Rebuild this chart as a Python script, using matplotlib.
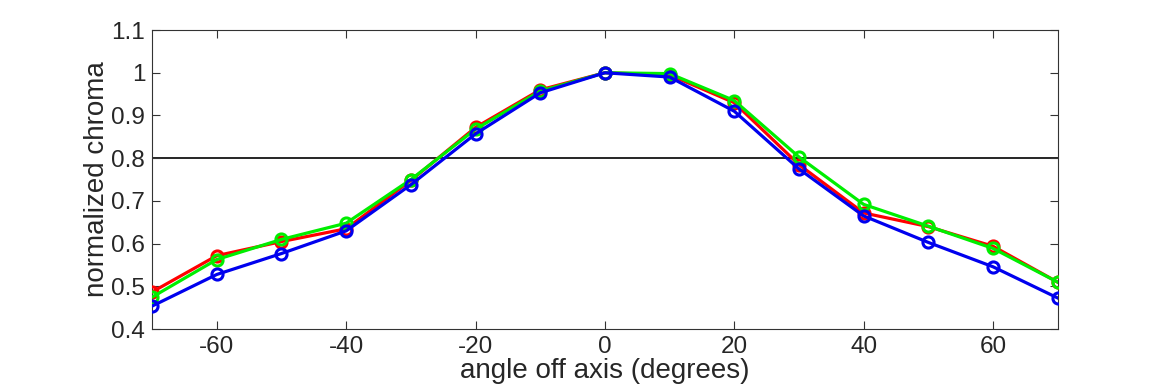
import numpy as np
import matplotlib
matplotlib.use('Agg')
import matplotlib.pyplot as plt

plt.rcParams['font.family'] = ['Liberation Sans', 'DejaVu Sans']
plt.rcParams['axes.unicode_minus'] = False

angles = [-70, -60, -50, -40, -30, -20, -10, 0, 10, 20, 30, 40, 50, 60, 70]
red = [0.487, 0.572, 0.605, 0.635, 0.748, 0.872, 0.960, 1.0, 0.995, 0.930, 0.785, 0.672, 0.640, 0.594, 0.510]
green = [0.475, 0.563, 0.610, 0.648, 0.750, 0.868, 0.957, 1.0, 0.998, 0.935, 0.803, 0.692, 0.641, 0.589, 0.510]
blue = [0.454, 0.528, 0.577, 0.630, 0.738, 0.857, 0.953, 1.0, 0.990, 0.910, 0.775, 0.665, 0.603, 0.546, 0.473]
threshold = 0.8

fig = plt.figure(figsize=(11.7, 3.9), dpi=100)
ax = fig.add_axes([0.130, 0.156, 0.774, 0.767])

ax.axhline(threshold, color='k', lw=1.2, zorder=1)
for ys, col in [(red, '#ff0000'), (green, '#00ee00'), (blue, '#0000ee')]:
    ax.plot(angles, ys, '-o', color=col, lw=2.3, ms=8, mfc='none', mew=2.2, zorder=3)

ax.set_xlim(-70, 70)
ax.set_ylim(0.4, 1.1)
ax.set_xticks(np.arange(-60, 61, 20))
ax.set_yticks(np.arange(0.4, 1.11, 0.1))
ax.set_yticklabels(['0.4', '0.5', '0.6', '0.7', '0.8', '0.9', '1', '1.1'])
ax.tick_params(direction='in', top=True, right=True, labelsize=17.5, length=6,
               color='#333333', labelcolor='#262626', pad=5)
for s in ax.spines.values():
    s.set_color('#333333')
ax.set_xlabel('angle off axis (degrees)', fontsize=20, labelpad=0, color='#262626')
ax.set_ylabel('normalized chroma', fontsize=20, labelpad=1, color='#262626')

fig.savefig('out.png', dpi=100)
